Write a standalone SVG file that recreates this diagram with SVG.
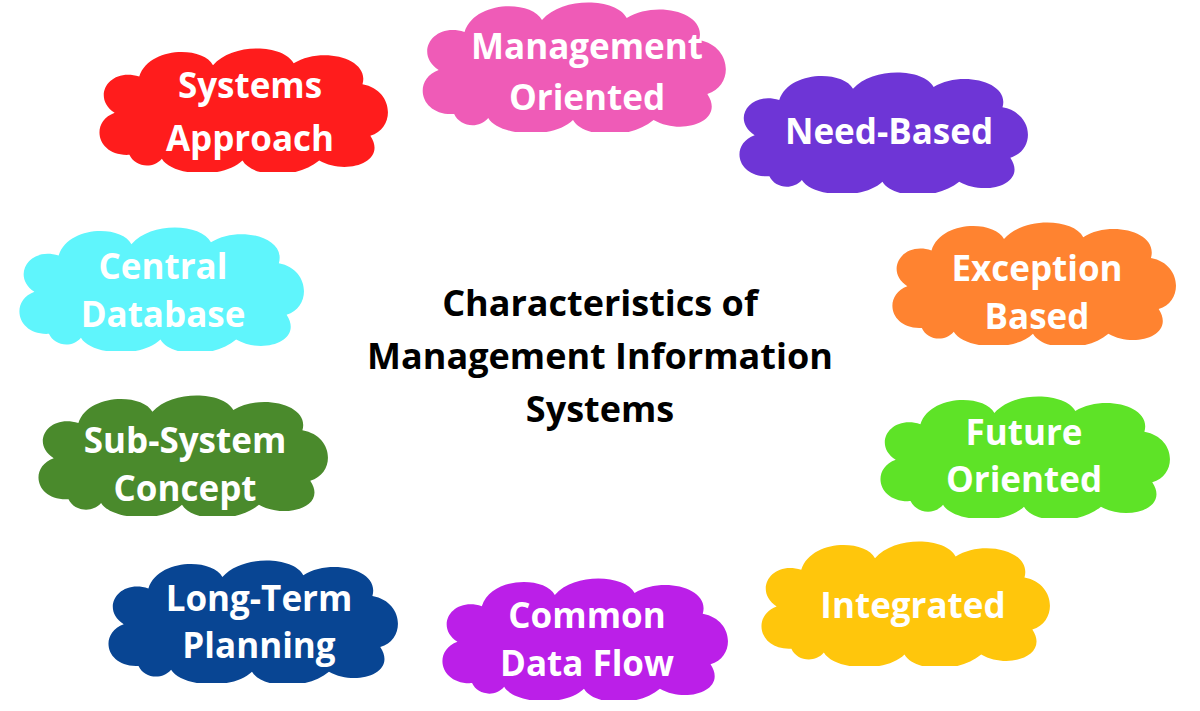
<svg xmlns="http://www.w3.org/2000/svg" width="1200" height="711" viewBox="0 0 1200 711">
<style>
.l{font-family:"Open Sans","Liberation Sans",sans-serif;font-weight:700;font-size:35px;fill:#fff;text-anchor:middle}
.t{font-family:"Open Sans","Liberation Sans",sans-serif;font-weight:700;font-size:36px;fill:#000;text-anchor:middle}
</style>
<defs>
<symbol id="cloud" viewBox="0 0 300 130" preserveAspectRatio="none">
<path d="M35,112 C2,114 -6,78 20,68 C-4,52 14,20 45,30 C55,-2 110,-2 120,18 C140,-6 192,-4 202,16 C230,-2 280,10 272,38 C304,44 306,84 280,92 C298,120 255,134 228,118 C205,138 160,136 150,118 C130,138 78,134 68,116 C58,128 40,124 35,112 Z"/>
</symbol>
</defs>
<rect width="1200" height="711" fill="#fff"/>
<g id="connectors"/>
<g id="n-systems"><use href="#cloud" x="95" y="48" width="295" height="124" fill="#ff1c1c"/><text class="l" x="250" y="98">Systems</text><text class="l" x="250" y="151">Approach</text></g>
<g id="n-management"><use href="#cloud" x="418" y="2" width="310" height="130" fill="#ef5bb7"/><text class="l" x="587" y="59">Management</text><text class="l" x="587" y="110">Oriented</text></g>
<g id="n-need"><use href="#cloud" x="735" y="72" width="295" height="121" fill="#6e35d6"/><text class="l" x="889" y="144">Need-Based</text></g>
<g id="n-exception"><use href="#cloud" x="888" y="222" width="290" height="123" fill="#ff8330"/><text class="l" x="1037" y="281">Exception</text><text class="l" x="1037" y="329">Based</text></g>
<g id="n-future"><use href="#cloud" x="876" y="396" width="296" height="122" fill="#5ee327"/><text class="l" x="1024" y="445">Future</text><text class="l" x="1024" y="492">Oriented</text></g>
<g id="n-integrated"><use href="#cloud" x="757" y="541" width="295" height="125" fill="#ffc60c"/><text class="l" x="913" y="618">Integrated</text></g>
<g id="n-common"><use href="#cloud" x="438" y="578" width="292" height="122" fill="#bb1fe8"/><text class="l" x="587" y="628">Common</text><text class="l" x="587" y="676">Data Flow</text></g>
<g id="n-longterm"><use href="#cloud" x="104" y="560" width="296" height="123" fill="#084593"/><text class="l" x="259" y="611">Long-Term</text><text class="l" x="259" y="658">Planning</text></g>
<g id="n-subsystem"><use href="#cloud" x="34" y="395" width="296" height="121" fill="#4a8a2c"/><text class="l" x="185" y="453">Sub-System</text><text class="l" x="185" y="501">Concept</text></g>
<g id="n-central"><use href="#cloud" x="15" y="227" width="291" height="124" fill="#5ff5fc"/><text class="l" x="163" y="279">Central</text><text class="l" x="163" y="327">Database</text></g>
<g id="n-title"><text class="t" x="600" y="316">Characteristics of</text><text class="t" x="600" y="369">Management Information</text><text class="t" x="600" y="422">Systems</text></g>
</svg>
